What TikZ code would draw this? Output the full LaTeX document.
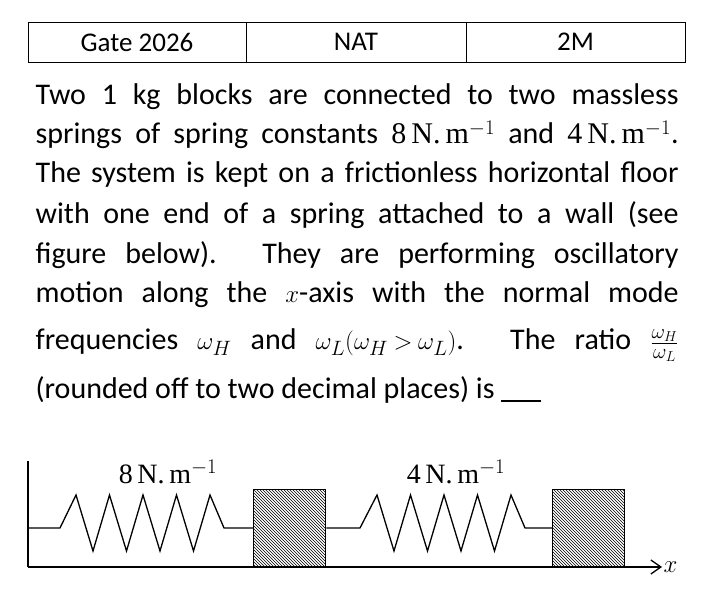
\documentclass[tikz,border=0pt]{standalone}
\usepackage{fontspec}
\setmainfont{Carlito}
\newfontfamily\serf{Liberation Serif}
\usepackage{amsmath}
\usetikzlibrary{arrows.meta,patterns}
\tikzstyle{cell-node}=[draw,thick,minimum height=40pt,inner sep=0pt,font=\fontsize{27}{30}\selectfont]
\tikzstyle{line-node}=[anchor=west,inner sep=0pt,font=\fontsize{30}{34}\selectfont]
\tikzstyle{block-node}=[draw,line width=1.3pt,pattern=north west lines,minimum width=72pt,minimum height=77pt,inner sep=0pt,anchor=south west]
\tikzstyle{label-node}=[font=\fontsize{28}{30}\selectfont]
\newcommand{\jline}[1]{\makebox[643pt][s]{#1}}
\newcommand{\unitk}[1]{\mbox{\serf #1\,N.\,m$^{-1}$}}

\begin{document}
\begin{tikzpicture}[x=1pt,y=1pt,line width=1.3pt]
        \useasboundingbox (0,0) rectangle (713,590);
        \begin{scope}
            % header row
            \node[cell-node,minimum width=218pt] at (137,548) (c0) {Gate 2026};
            \node[cell-node,minimum width=220pt] at (356,548) (c1) {NAT};
            \node[cell-node,minimum width=219pt] at (575.5,548) (c2) {2M};

            % question text
            \node[line-node] at (35,493) (l0) {\jline{Two 1 kg blocks are connected to two massless}};
            \node[line-node] at (35,455) (l1) {\jline{springs of spring constants \unitk{8} and \unitk{4}.}};
            \node[line-node] at (35,415) (l2) {\jline{The system is kept on a frictionless horizontal floor}};
            \node[line-node] at (35,375) (l3) {\jline{with one end of a spring attached to a wall (see}};
            \node[line-node] at (35,335) (l4) {\jline{figure below). They are performing oscillatory}};
            \node[line-node] at (35,295) (l5) {\jline{motion along the \mbox{$x$-axis} with the normal mode}};
            \node[line-node] at (35,245) (l6) {\jline{frequencies \mbox{$\omega_H$} and \mbox{$\omega_L(\omega_H\mathbin{>}\omega_L)$}. The ratio \mbox{$\frac{\omega_H}{\omega_L}$}}};
            \node[line-node] at (35,200) (l7) {(rounded off to two decimal places) is \rule[-3pt]{40pt}{1.2pt}};

            % wall, floor, blocks
            \coordinate (wtop) at (28,129);
            \coordinate (wbot) at (28,23);
            \coordinate (wmid) at (28,62);
            \coordinate (ftip) at (662,23);
            \node[block-node] at (253,23) (m0) {};
            \node[block-node] at (552,23) (m1) {};
            \draw (wtop) -- (wbot);
            \draw[-{Straight Barb[length=10pt,width=14pt]}] (wbot) -- (ftip);
            \node[font=\fontsize{36}{36}\selectfont,anchor=west,inner sep=1pt] at (ftip) (xl) {$x$};

            % springs
            \draw (wmid) -- (60,62)
                \foreach \k in {0,...,3}{ -- ({76+33.5*\k},95) -- ({93+33.5*\k},39) }
                -- (210,95) -- (224,62) -- (m0.west |- 0,62);
            \draw (m0.east |- 0,62) -- (360,62)
                \foreach \k in {0,...,3}{ -- ({377+33.5*\k},95) -- ({394+33.5*\k},39) }
                -- (511,95) -- (525,62) -- (m1.west |- 0,62);
            \node[label-node] at (168,118) (k0) {\unitk{8}};
            \node[label-node] at (456,118) (k1) {\unitk{4}};
        \end{scope}
    \end{tikzpicture}
\end{document}
